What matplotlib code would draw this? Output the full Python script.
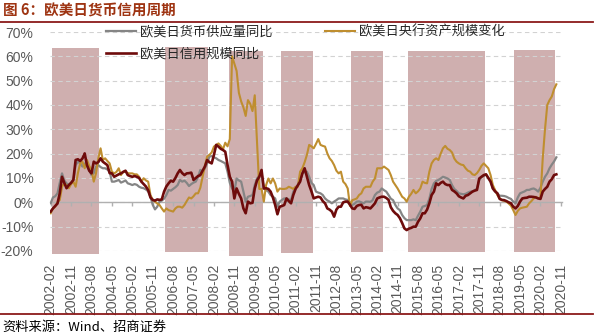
import numpy as np
import pandas as pd
import matplotlib
matplotlib.use("Agg")
import matplotlib.pyplot as plt
from matplotlib.lines import Line2D

plt.rcParams['font.family'] = ['Noto Sans CJK SC', 'DejaVu Sans']

# ---------------- data ----------------
start_month = '2002-02'

money_supply = [  # 欧美日货币供应量同比 (%)
    -0.4, 2.0, 2.5, 3.7, 8.0, 11.9, 9.0, 7.8, 7.1, 8.0, 9.2, 15.3,
    16.7, 16.0, 14.7, 16.0, 15.0, 13.3, 11.2, 12.0, 14.7, 15.3, 14.5, 14.0,
    14.0, 13.5, 12.6, 8.5, 8.5, 8.8, 9.2, 8.1, 8.5, 9.0, 7.8, 7.5,
    7.1, 7.5, 7.2, 6.4, 6.0, 5.8, 5.3, 4.5, 2.3, -1.0, -2.9, -1.8,
    0.3, 0.7, 1.5, 3.0, 5.1, 4.8, 5.5, 6.2, 7.1, 9.2, 8.5, 8.9,
    8.0, 6.7, 7.5, 8.1, 8.5, 10.5, 13.3, 12.6, 14.0, 16.0, 18.8, 19.0,
    18.5, 18.1, 17.4, 17.0, 16.5, 16.0, 12.6, 8.0, 5.7, 4.4, 9.8, 9.0,
    8.5, 4.4, 0.3, 2.3, 2.6, 3.0, 7.1, 9.8, 11.0, 11.9, 5.7, 5.0,
    4.4, 3.0, 2.3, 1.6, -1.8, 0.3, 1.0, 1.6, 1.6, 1.2, 0.9, 4.4,
    6.0, 7.1, 9.8, 11.9, 12.4, 12.6, 10.5, 8.0, 7.1, 4.4, 4.0, 3.7,
    3.0, 1.6, 0.8, 0.3, -0.4, 0.3, 0.9, 1.6, 1.6, 1.6, 1.2, 1.0,
    -0.5, -1.1, -0.6, 0.3, 0.4, 0.0, -0.4, 0.3, 0.3, 0.2, 0.9, 3.0,
    4.0, 4.4, 5.7, 5.0, 4.4, 3.0, 1.5, 0.9, -1.1, -2.5, -3.2, -5.2,
    -6.5, -7.3, -7.3, -7.3, -7.0, -7.3, -5.5, -3.8, -1.8, -1.5, -1.1, 1.5,
    5.5, 7.8, 8.8, 9.2, 9.8, 10.5, 10.2, 9.8, 9.2, 7.1, 5.5, 4.7,
    3.7, 3.5, 3.3, 3.5, 4.0, 4.4, 4.5, 5.0, 5.7, 9.2, 10.5, 10.8,
    11.5, 10.0, 8.8, 5.7, 4.5, 3.7, 2.7, 2.7, 2.6, 2.3, 1.8, 1.4,
    0.3, -0.4, 2.0, 3.7, 4.1, 4.5, 5.1, 5.1, 5.5, 5.7, 5.2, 4.4,
    6.0, 8.5, 10.5, 11.9, 14.0, 15.5, 16.8, 18.5,
]

cb_assets = [  # 欧美日央行资产规模变化 (%)
    -4.5, -2.5, -1.8, 0.0, 1.0, 6.4, 7.8, 7.0, 5.8, 7.5, 8.5, 6.4,
    12.0, 16.0, 16.7, 14.0, 17.4, 15.0, 13.3, 8.5, 12.0, 18.0, 22.2, 17.4,
    18.1, 17.0, 16.0, 12.6, 11.9, 12.5, 14.0, 11.2, 12.6, 12.6, 12.0, 11.9,
    11.9, 11.5, 11.5, 10.5, 8.5, 9.9, 9.0, 8.5, 3.0, 1.0, 0.3, -0.5,
    -1.1, -2.5, -3.8, -2.5, -3.2, -3.5, -3.8, -2.5, -1.8, -1.8, -2.2, -1.1,
    0.5, 2.0, 1.6, 2.5, 3.7, 3.7, 6.0, 10.5, 15.0, 18.8, 19.5, 20.5,
    22.9, 23.6, 24.2, 23.2, 21.8, 24.5, 23.0, 26.0, 60.0, 57.0, 54.0, 45.0,
    41.5, 39.0, 35.5, 42.0, 40.5, 37.5, 44.0, 25.0, 5.5, 5.5, 0.3, 7.1,
    9.8, 7.8, 9.8, 7.8, 4.4, 5.7, 5.5, 5.5, 5.7, 6.4, 6.0, 5.5,
    6.4, 6.4, 12.6, 14.0, 16.5, 19.5, 23.6, 23.0, 22.2, 24.0, 26.0, 23.6,
    23.2, 22.9, 20.1, 18.1, 17.0, 15.3, 13.0, 11.9, 12.6, 8.5, 7.5, 5.7,
    -1.5, 0.9, 1.2, 1.6, 3.0, 3.7, 5.7, 6.4, 6.4, 6.4, 8.5, 9.8,
    14.0, 14.0, 14.0, 14.7, 14.0, 13.3, 11.2, 8.5, 7.1, 5.7, 4.0, 2.3,
    1.6, 0.3, 2.3, 3.5, 5.1, 3.7, 4.5, 5.7, 8.5, 8.0, 7.8, 12.6,
    16.0, 17.4, 18.1, 17.4, 20.0, 22.2, 23.2, 22.0, 21.5, 20.5, 18.0, 16.7,
    16.0, 15.5, 15.3, 14.0, 13.0, 12.6, 11.5, 11.2, 12.0, 13.3, 15.0, 16.0,
    15.0, 14.0, 11.2, 7.1, 5.0, 3.0, 1.6, 0.9, 0.6, 0.3, -0.5, -1.4,
    -3.2, -5.2, -3.5, -2.5, -2.2, -2.0, -1.8, -0.4, 0.5, 1.6, 2.3, 1.6,
    2.0, 18.0, 30.0, 40.0, 42.0, 43.5, 46.5, 48.5,
]

credit = [  # 欧美日信用规模同比 (%)
    -3.8, -2.5, -1.5, -0.5, 3.7, 10.5, 8.0, 5.8, 7.1, 8.0, 9.2, 17.4,
    17.7, 17.0, 18.0, 20.1, 15.3, 13.0, 11.9, 16.7, 16.0, 16.5, 18.1, 16.7,
    16.0, 15.3, 12.0, 11.9, 10.5, 11.0, 11.5, 11.9, 12.5, 13.0, 11.2, 10.8,
    10.5, 10.8, 10.5, 10.0, 8.5, 7.5, 6.5, 5.0, 2.0, 1.0, 0.7, 1.2,
    1.0, 1.2, 4.4, 6.5, 7.8, 8.9, 8.5, 10.0, 11.9, 13.3, 12.0, 11.2,
    11.9, 12.0, 12.2, 9.2, 10.0, 10.8, 11.2, 13.0, 14.7, 17.4, 16.5, 16.0,
    19.5, 23.6, 22.9, 22.0, 21.5, 20.8, 15.3, 10.5, 8.5, 1.6, 5.7, 3.5,
    1.6, -2.5, -4.5, 0.3, -0.4, -0.2, 5.7, 9.0, 10.5, 13.3, 5.7, 5.8,
    5.5, 4.4, 2.0, -1.1, -4.9, -1.8, -1.5, -1.1, 1.6, 0.5, -0.4, 3.0,
    5.5, 7.0, 8.5, 11.9, 14.0, 10.5, 7.1, 4.5, 1.6, 2.0, 2.3, 2.0,
    0.5, -0.4, -2.5, -3.0, -3.8, -5.9, -3.0, -1.8, -1.8, 0.0, 0.3, 0.3,
    -1.0, -2.5, -2.7, -1.5, -1.1, -1.0, -2.5, -2.0, -2.2, -2.5, -1.5, -0.4,
    1.6, 2.0, 2.3, 2.3, 1.8, 1.0, -2.0, -3.5, -4.5, -5.2, -6.5, -8.5,
    -10.7, -11.4, -10.8, -10.5, -10.0, -10.0, -8.0, -6.6, -4.5, -4.5, -3.0, -0.4,
    3.0, 4.4, 7.8, 7.1, 8.0, 8.5, 7.5, 7.1, 7.1, 5.1, 4.5, 3.7,
    2.5, 2.0, 1.6, 2.7, 3.0, 3.7, 4.4, 4.8, 5.1, 9.8, 10.5, 11.2,
    11.5, 10.0, 8.5, 5.7, 4.5, 3.7, 1.4, 1.0, 0.9, 0.5, 0.0, -0.4,
    -1.8, -2.5, -1.5, 0.3, 1.6, 1.8, 1.9, 2.3, 2.3, 2.2, 2.0, 1.6,
    1.4, 4.4, 5.5, 6.4, 8.5, 9.5, 11.2, 11.5,
]

# shaded cycle periods (bar series)
cycle_start = ['2002-03', '2006-05', '2008-09', '2010-08', '2013-03', '2015-04', '2019-03']
cycle_end = ['2003-11', '2007-11', '2009-11', '2011-09', '2014-04', '2018-01', '2020-08']
cycle_top = [63.3, 64.0, 62.3, 62.3, 62.2, 62.2, 62.7]
cycle_bottom = [-21.2, -20.3, -22.1, -20.7, -20.3, -20.3, -20.3]

label_names = ['欧美日货币供应量同比', '欧美日信用规模同比', '欧美日央行资产规模变化']
tick_step = 9
n_axis_months = 226  # category axis through 2020-11

# ---------------- figure ----------------
W, H = 599, 336
fig = plt.figure(figsize=(W / 100, H / 100), dpi=100)
ax = fig.add_axes([50 / W, 1 - 251 / H, 512 / W, 219 / H])

months = pd.period_range(start_month, periods=n_axis_months, freq='M')
x = np.arange(len(credit))

def month_idx(s):
    return (pd.Period(s, freq='M') - months[0]).n

cs = np.array([month_idx(s) for s in cycle_start])
ce = np.array([month_idx(s) for s in cycle_end])
top = np.array(cycle_top)
bot = np.array(cycle_bottom)
ax.bar((cs + ce) / 2, top - bot, width=ce - cs + 1, bottom=bot,
       color='#cfafaf', edgecolor='none', zorder=1, clip_on=False)

c_gray = '#858585'
c_red = '#6e0b0b'
c_gold = '#bf8e2f'
l1, = ax.plot(x, money_supply, color=c_gray, lw=1.6, zorder=3)
l3, = ax.plot(x, cb_assets, color=c_gold, lw=1.5, zorder=4)
l2, = ax.plot(x, credit, color=c_red, lw=1.9, zorder=5)

ax.set_xlim(-0.3, 225.5)
ax.set_ylim(-20, 70)
ax.set_yticks(np.arange(-20, 71, 10))
ax.set_yticklabels([f'{v}%' for v in range(-20, 71, 10)],
                   family=['Liberation Sans', 'DejaVu Sans'])
ax.tick_params(axis='y', length=0, pad=12, labelsize=10, labelcolor='#595959')

ax.set_axisbelow(False)
ax.yaxis.grid(True, linestyle=(0, (4, 3)), color='#d2d2d2', lw=0.8)
for s in ['top', 'right', 'left']:
    ax.spines[s].set_visible(False)
ax.spines['bottom'].set_position(('data', 0))
ax.spines['bottom'].set_color('#b0b0b0')
ax.spines['bottom'].set_linewidth(1.0)
ax.spines['bottom'].set_zorder(2.6)

tick_pos = np.arange(0, n_axis_months, tick_step)
ax.set_xticks(tick_pos)
ax.tick_params(axis='x', length=3, color='#b0b0b0', width=1.0, labelbottom=False)

sec = ax.secondary_xaxis('bottom')
sec.set_xticks(tick_pos)
sec.set_xticklabels([str(months[i]) for i in tick_pos], rotation=90,
                    family=['Liberation Sans', 'DejaVu Sans'])
sec.tick_params(axis='x', length=0, pad=9, labelsize=10, labelcolor='#595959')
sec.spines['bottom'].set_visible(False)

leg = ax.legend([l1, l2, l3], [label_names[0], label_names[1], label_names[2]],
                ncol=2, frameon=False, loc='upper left',
                bbox_to_anchor=(106 / W, 1 - 25 / H), bbox_transform=fig.transFigure,
                borderpad=0, borderaxespad=0, handlelength=2.3, handletextpad=0.25,
                columnspacing=4.0, labelspacing=0.72, prop={'size': 9.5})
for t in leg.get_texts():
    t.set_color('#262626')
leg.set_zorder(6)

# header / footer
fig.text(3 / W, 1 - 11 / H, '图 6：欧美日货币信用周期', va='center', ha='left',
         fontsize=10.5, fontweight='bold', color='#9e3412')
fig.add_artist(Line2D([0, 593 / W], [1 - 21.7 / H] * 2, color='#8b1a1a', lw=1.3))
fig.add_artist(Line2D([0, 593 / W], [1 - 314 / H] * 2, color='#8b1a1a', lw=1.3))
fig.text(2 / W, 1 - 327 / H, '资料来源：Wind、招商证券', va='center', ha='left',
         fontsize=9.5, color='#000000')

fig.savefig('out.png', dpi=100)
